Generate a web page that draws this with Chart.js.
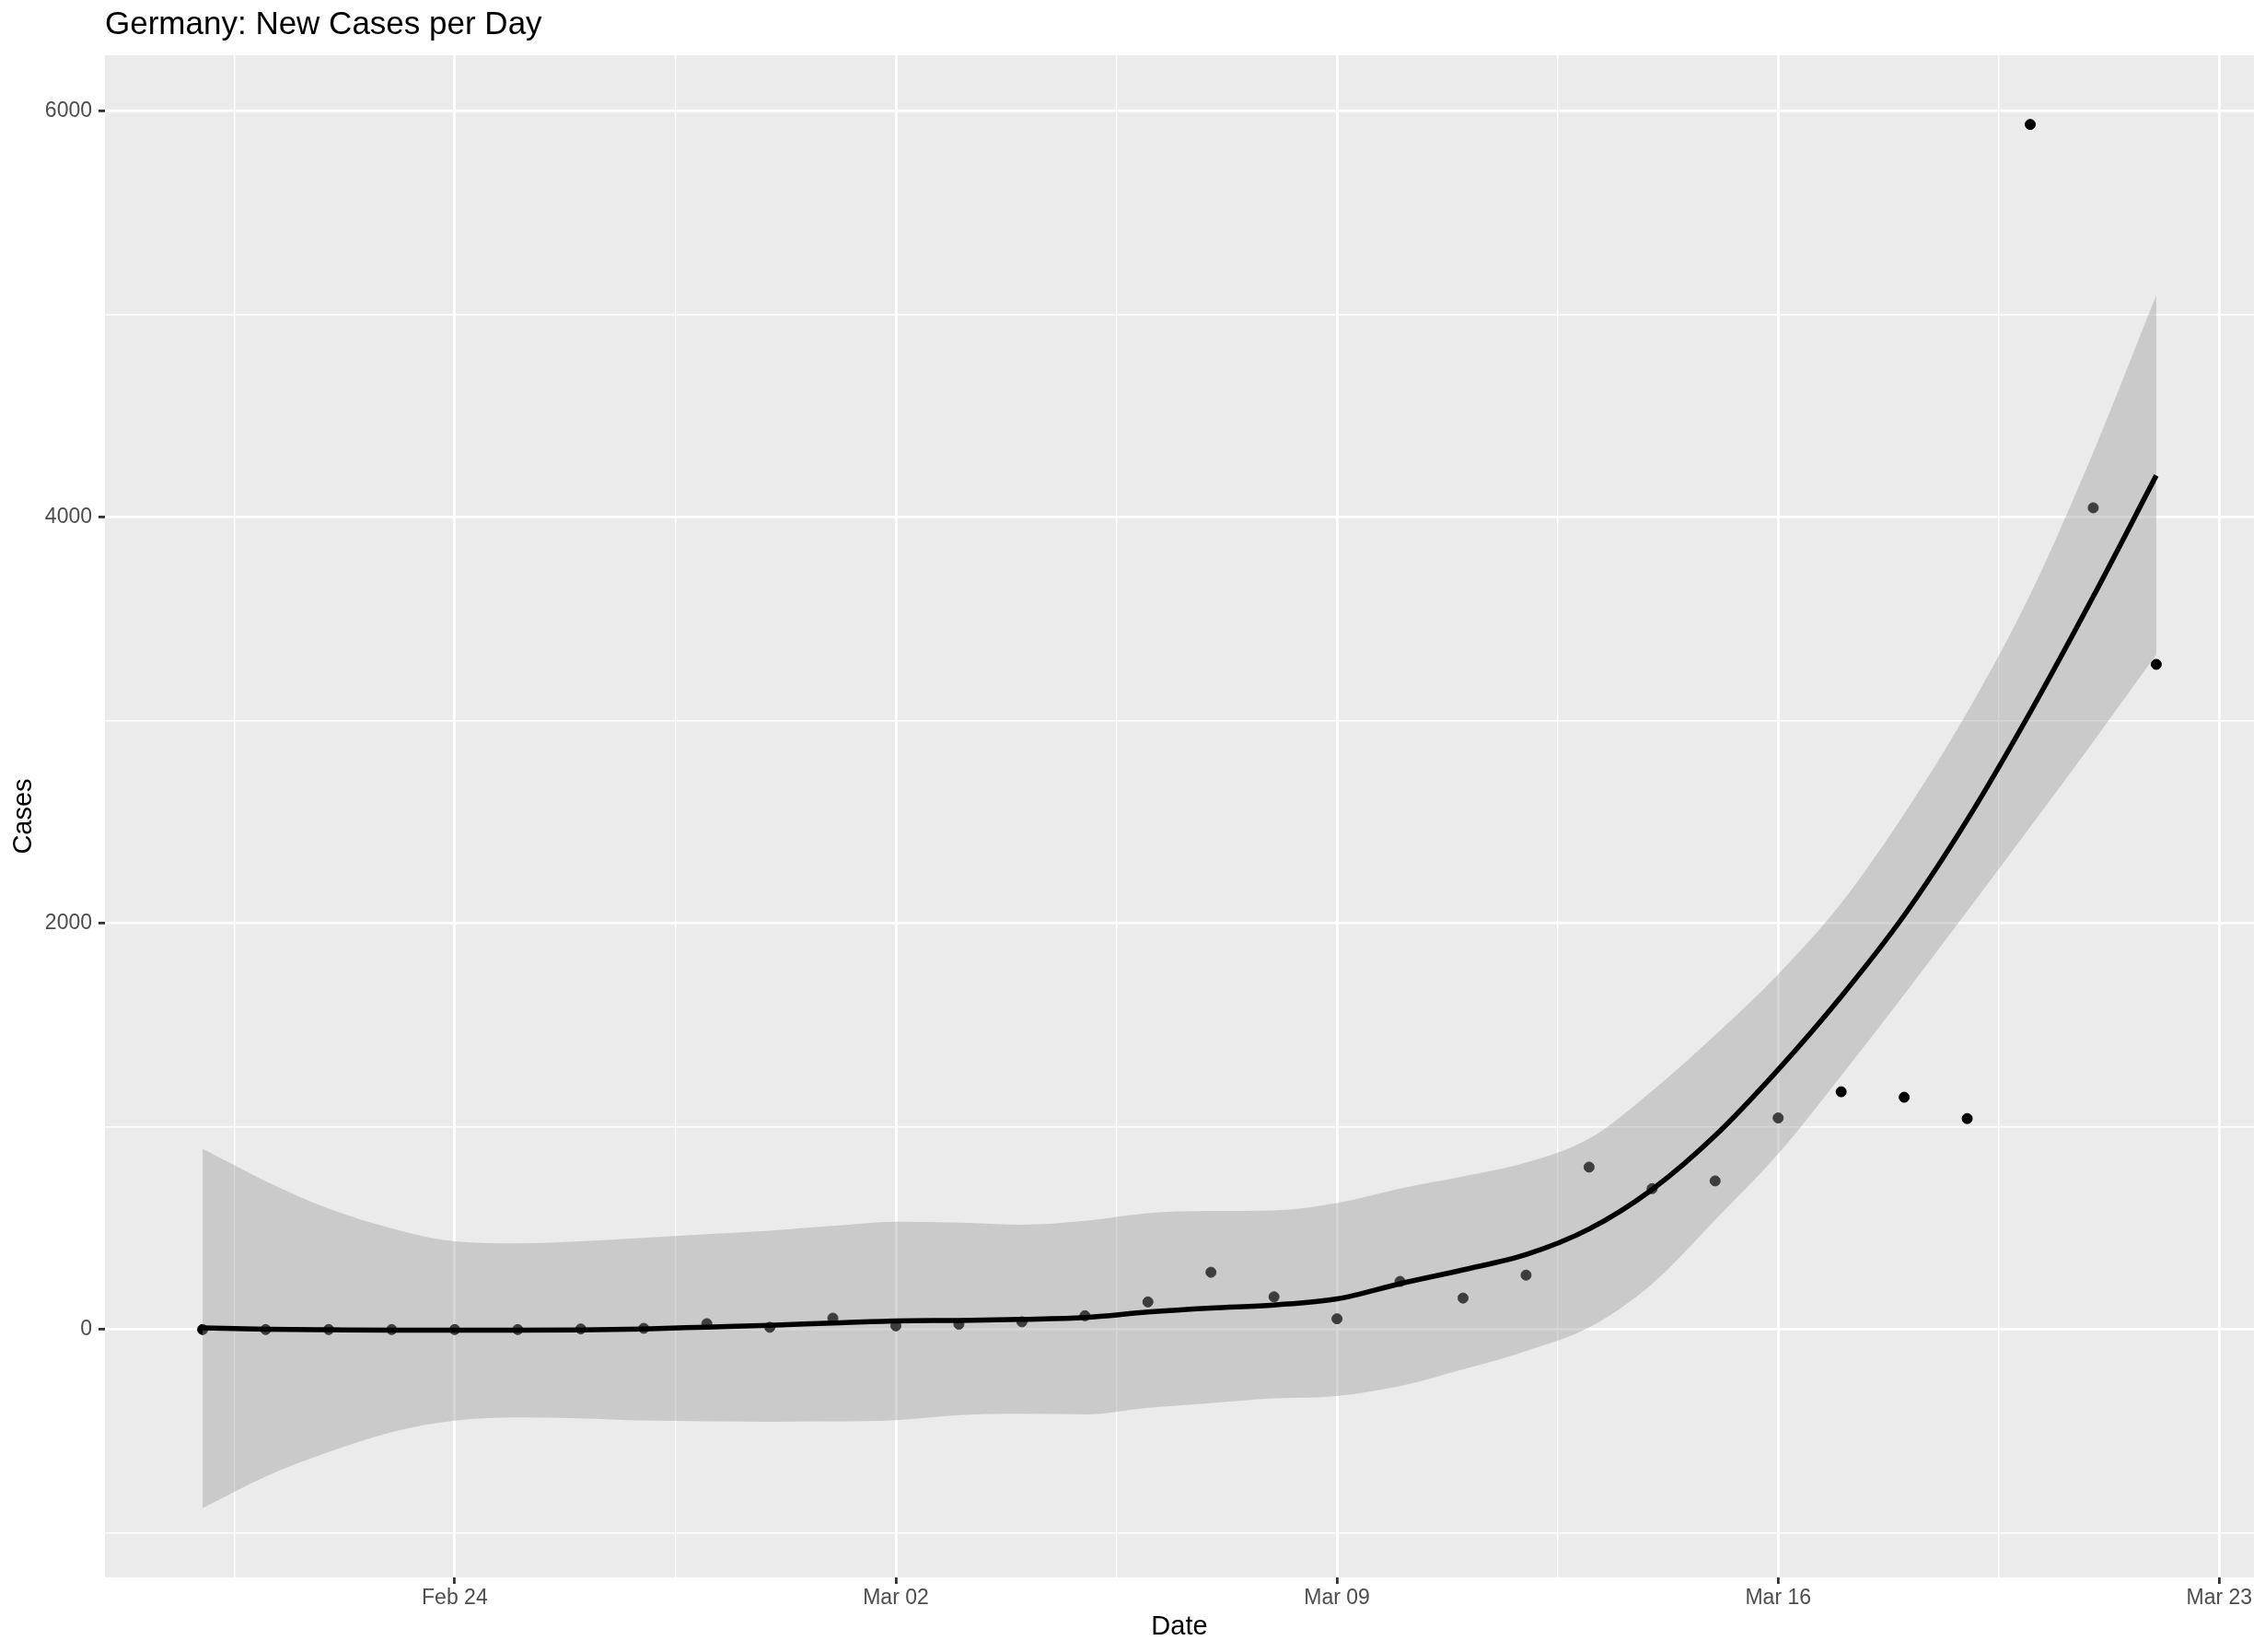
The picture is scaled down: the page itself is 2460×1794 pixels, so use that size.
<!DOCTYPE html>
<html>
<head>
<meta charset="utf-8">
<script src="https://cdn.jsdelivr.net/npm/chart.js@4.4.0/dist/chart.umd.min.js"></script>
<style>
html,body{margin:0;padding:0;background:#ffffff;}
canvas{display:block;}
</style>
</head>
<body>
<canvas id="c" width="2460" height="1794"></canvas>
<script>
// ---- data ----
const dates = [
  '2020-02-20','2020-02-21','2020-02-22','2020-02-23','2020-02-24','2020-02-25','2020-02-26','2020-02-27','2020-02-28','2020-02-29',
  '2020-03-01','2020-03-02','2020-03-03','2020-03-04','2020-03-05','2020-03-06','2020-03-07','2020-03-08','2020-03-09','2020-03-10',
  '2020-03-11','2020-03-12','2020-03-13','2020-03-14','2020-03-15','2020-03-16','2020-03-17','2020-03-18','2020-03-19','2020-03-20',
  '2020-03-21','2020-03-22'
];
const cases = [0,0,0,0,0,0,3,6,29,11, 56,18,26,38,68,136,282,161,53,237, 155,268,800,694,732,1042,1171,1144,1039,5935, 4047,3276];
const fit = [8,2,-1,-3,-3,-3,-2,3,12,21, 32,42,45,50,59,86,106,121,151,226, 294,369,495,690,955,1280,1640,2040,2510,3040, 3610,4206];
const fitUpper = [890,731,595,498,434,424,434,452,470,487, 510,531,526,516,535,573,584,587,623,694, 754,822,940,1175,1450,1750,2100,2540,3040,3620, 4320,5094];
const fitLower = [-880,-724,-603,-505,-449,-433,-437,-448,-452,-454, -452,-446,-422,-415,-418,-385,-362,-339,-327,-279, -196,-106,10,225,540,865,1250,1650,2060,2475, 2895,3324];

const xTickDates = ['2020-02-24','2020-03-02','2020-03-09','2020-03-16','2020-03-23'];
const xTickLabels = ['Feb 24','Mar 02','Mar 09','Mar 16','Mar 23'];
const yTickValues = [0,2000,4000,6000];
const yMinorValues = [-1000,1000,3000,5000];

const titleText = 'Germany: New Cases per Day';
const xTitle = 'Date';
const yTitle = 'Cases';

// ---- helpers ----
const FONT = "'Liberation Sans', Arial, Helvetica, sans-serif";
const ORIGIN = Date.parse('2020-02-24');
const dayOf = d => (Date.parse(d) - ORIGIN) / 86400000;

const xs = dates.map(dayOf);
const xRange = xs[xs.length - 1] - xs[0];
const xMin = xs[0] - 0.05 * xRange;
const xMax = xs[xs.length - 1] + 0.05 * xRange;

const yLo = Math.min(...cases, ...fitLower);
const yHi = Math.max(...cases, ...fitUpper);
const yMin = yLo - 0.05 * (yHi - yLo);
const yMax = yHi + 0.05 * (yHi - yLo);

const xMajor = xTickDates.map(dayOf);
const xTicks = [];
xMajor.forEach(v => {
  if (v - 3.5 >= xMin) xTicks.push({ value: v - 3.5, isMajor: false });
  xTicks.push({ value: v, isMajor: true });
});
xTicks.sort((a, b) => a.value - b.value);
const yTicks = yTickValues.map(v => ({ value: v, isMajor: true }))
  .concat(yMinorValues.map(v => ({ value: v, isMajor: false })))
  .sort((a, b) => a.value - b.value);

const pts = arr => xs.map((x, i) => ({ x: x, y: arr[i] }));

const isMaj = c => !!(c.tick && c.tick.isMajor);

const gridOpts = {
  color: '#FFFFFF',
  lineWidth: c => isMaj(c) ? 2.8 : 1.4,
  drawTicks: true,
  tickLength: 7,
  tickWidth: 2.8,
  tickColor: c => isMaj(c) ? '#333333' : 'rgba(0,0,0,0)'
};

const panelBg = {
  id: 'panelBg',
  beforeDraw(chart) {
    const { ctx, chartArea: a } = chart;
    ctx.save();
    ctx.fillStyle = '#FFFFFF';
    ctx.fillRect(0, 0, chart.width, chart.height);
    ctx.fillStyle = '#EBEBEB';
    ctx.fillRect(a.left, a.top, a.right - a.left, a.bottom - a.top);
    ctx.restore();
  },
  afterLayout(chart) {
    if (chart.titleBlock) {
      const w = chart.titleBlock.right - chart.titleBlock.left;
      chart.titleBlock.left = chart.chartArea.left;
      chart.titleBlock.right = chart.titleBlock.left + w;
    }
  }
};

new Chart(document.getElementById('c'), {
  type: 'scatter',
  data: {
    datasets: [
      {
        label: 'Cases',
        data: pts(cases),
        showLine: false,
        pointRadius: 5.5,
        pointBackgroundColor: '#000000',
        pointBorderColor: '#000000',
        pointBorderWidth: 1,
        order: 3
      },
      {
        label: 'upper',
        data: pts(fitUpper),
        showLine: true,
        borderWidth: 0,
        borderColor: 'rgba(0,0,0,0)',
        pointRadius: 0,
        fill: '+1',
        backgroundColor: 'rgba(153,153,153,0.4)',
        cubicInterpolationMode: 'monotone',
        order: 2
      },
      {
        label: 'lower',
        data: pts(fitLower),
        showLine: true,
        borderWidth: 0,
        borderColor: 'rgba(0,0,0,0)',
        pointRadius: 0,
        fill: false,
        cubicInterpolationMode: 'monotone',
        order: 2
      },
      {
        label: 'fit',
        data: pts(fit),
        showLine: true,
        borderColor: '#000000',
        borderWidth: 5.5,
        pointRadius: 0,
        fill: false,
        cubicInterpolationMode: 'monotone',
        order: 1
      }
    ]
  },
  options: {
    responsive: false,
    devicePixelRatio: 1,
    animation: false,
    layout: { padding: { left: 0, right: 12, top: 0, bottom: 0 } },
    plugins: {
      legend: { display: false },
      tooltip: { enabled: false },
      title: {
        display: true,
        text: titleText,
        align: 'start',
        color: '#000000',
        font: { family: FONT, size: 35, weight: 'normal', lineHeight: 1 },
        padding: { top: 10, bottom: 15 }
      }
    },
    scales: {
      x: {
        type: 'linear',
        min: xMin,
        max: xMax,
        afterBuildTicks: ax => { ax.ticks = xTicks.map(t => ({ value: t.value, isMajor: t.isMajor })); },
        afterFit: ax => { ax.height = 81; },
        ticks: {
          autoSkip: false,
          maxRotation: 0,
          minRotation: 0,
          padding: 2,
          color: '#4D4D4D',
          font: { family: FONT, size: 23 },
          callback: (v, i, ts) => {
            if (!ts[i] || !ts[i].isMajor) return '';
            const k = xMajor.indexOf(v);
            return k >= 0 ? xTickLabels[k] : '';
          }
        },
        grid: gridOpts,
        border: { display: false },
        title: {
          display: true,
          text: xTitle,
          color: '#000000',
          font: { family: FONT, size: 29, lineHeight: 1 },
          padding: { top: 0, bottom: 12.5 }
        }
      },
      y: {
        type: 'linear',
        min: yMin,
        max: yMax,
        afterBuildTicks: ax => { ax.ticks = yTicks.map(t => ({ value: t.value, isMajor: t.isMajor })); },
        afterFit: ax => { ax.width = 114; },
        ticks: {
          padding: 7,
          color: '#4D4D4D',
          font: { family: FONT, size: 23 },
          callback: (v, i, ts) => (ts[i] && ts[i].isMajor) ? String(v) : ''
        },
        grid: gridOpts,
        border: { display: false },
        title: {
          display: true,
          text: yTitle,
          color: '#000000',
          font: { family: FONT, size: 29, lineHeight: 1 },
          padding: { top: 11.5, bottom: 0 }
        }
      }
    }
  },
  plugins: [panelBg]
});
</script>
</body>
</html>
